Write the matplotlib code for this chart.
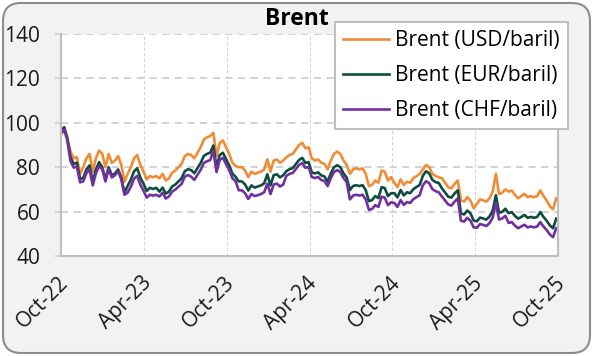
import numpy as np
import pandas as pd
import matplotlib
matplotlib.use("Agg")
import matplotlib.pyplot as plt
import matplotlib.dates as mdates
from matplotlib.patches import FancyBboxPatch
from matplotlib.transforms import IdentityTransform, ScaledTranslation

plt.rcParams['font.family'] = ['Open Sans', 'DejaVu Sans']

# semanas de Oct-22 a Set-25
datas = pd.date_range('2022-10-01', periods=157, freq='7D')

brent_usd = [96, 98, 93, 87, 84, 84.5, 77, 80, 84, 86, 78, 84, 87.5, 86, 80, 86, 82, 83, 85, 81,
             73.5, 77, 80, 84, 85.5, 81, 78, 74.5, 76, 75.5, 76, 75, 77, 74, 75, 77.5, 78.5, 80, 81.5, 85,
             86, 85.5, 84, 86.5, 89, 92.5, 93.5, 94, 95.5, 85, 91, 92, 89, 86, 82, 80.5, 80, 80, 78.5, 75.5,
             78, 77, 77.5, 78, 79, 83.5, 78, 83, 83.5, 82, 83, 84.5, 85.5, 86, 88, 90, 91, 88.5, 89, 84,
             83, 83.5, 82, 81.5, 79, 83, 86, 87, 86, 83, 81, 77, 79, 79.5, 79, 79.5, 77, 71.5, 72, 74,
             73, 78.5, 78, 74, 75.5, 73, 71, 74.5, 72, 73.5, 73, 75, 76, 77, 79, 81, 80, 77, 76, 75.5,
             75, 73, 71, 70.5, 72.5, 74, 65, 64.5, 66.5, 65, 61.5, 63.5, 65.5, 65, 64.5, 66, 69, 77, 68, 68.5,
             70, 69, 69.5, 67.5, 66, 67, 68, 66.5, 67, 66.5, 67, 69.5, 67, 65, 62.5, 61, 66]

brent_eur = [96, 98, 93, 84.4, 81.5, 82, 74.7, 75.2, 79, 80.8, 73.3, 79, 82.3, 80, 74.4, 80, 76.3, 77.2, 79, 75.3,
             68.4, 71.6, 74.4, 78.1, 79.5, 75.3, 72.5, 69.3, 70.7, 70.2, 70.7, 69, 70.8, 68.1, 69, 71.3, 72.2, 73.6, 75, 78.2,
             79.1, 78.7, 77.3, 79.6, 81.9, 85.1, 86, 86.5, 89.8, 79.9, 85.5, 86.5, 83.7, 80.8, 77.1, 75.7, 73.6, 73.6, 72.2, 69.5,
             71.8, 70.8, 71.3, 71.8, 72.7, 76.8, 71.8, 76.4, 76.8, 75.4, 76.4, 78.2, 79.1, 79.6, 81.4, 83.3, 84.2, 81.9, 82.3, 77.7,
             77.2, 77.7, 76.3, 75.8, 73.5, 77.2, 80, 80.9, 80, 77.2, 75.3, 69.7, 71.5, 71.9, 71.5, 71.9, 69.7, 64.7, 65.2, 67,
             66.1, 71, 70.6, 67, 68.3, 68.3, 66.4, 69.7, 67.3, 68.7, 68.3, 70.1, 71.1, 72, 76.2, 78.2, 77.2, 74.3, 73.3, 72.9,
             70.5, 68.6, 66.7, 66.3, 68.2, 69.6, 59.2, 58.7, 60.5, 59.2, 56, 55.6, 57.3, 56.9, 56.4, 57.8, 60.4, 67.4, 59.5, 59.9,
             61.3, 59.3, 59.8, 58.1, 56.8, 57.6, 58.5, 57.2, 57.6, 57.2, 57.6, 59.8, 57.6, 55.9, 53.8, 52.5, 56.8]

brent_chf = [95, 97, 92, 82.7, 79.8, 80.3, 73.2, 73.6, 77.3, 79.1, 71.8, 77.3, 80.5, 79.1, 73.6, 79.1, 75.4, 76.4, 78.2, 74.5,
             67.6, 68.5, 71.2, 74.8, 76.1, 72.1, 69.4, 66.3, 67.6, 67.2, 67.6, 66.8, 68.5, 65.9, 66.8, 69, 69.9, 71.2, 72.5, 75.7,
             76.5, 75.7, 74.3, 76.6, 78.8, 81.9, 82.7, 83.2, 87.4, 77.8, 83.3, 84.2, 81.4, 78.7, 75, 73.7, 69.6, 69.6, 68.3, 65.7,
             67.9, 67, 67.4, 67.9, 68.7, 72.6, 67.9, 72.2, 72.6, 71.3, 72.2, 76.1, 77, 77.4, 79.2, 81, 81.9, 79.7, 80.1, 75.6,
             75.1, 75.6, 74.2, 73.8, 71.5, 75.1, 77.8, 78.7, 77.8, 75.1, 73.3, 65.5, 67.2, 67.6, 67.2, 67.6, 65.5, 60.8, 61.2, 62.9,
             62.1, 66.7, 66.3, 62.9, 64.2, 63.9, 62.1, 65.2, 63, 64.3, 63.9, 65.6, 66.5, 67.4, 71.9, 73.7, 72.8, 70.1, 69.2, 68.7,
             66.8, 65, 63.2, 62.7, 64.5, 65.9, 55.9, 55.5, 57.2, 55.9, 52.9, 52.7, 54.4, 54, 53.5, 54.8, 57.3, 63.9, 56.4, 56.9,
             58.1, 54.9, 55.3, 53.7, 52.5, 53.3, 54.1, 52.9, 53.3, 52.9, 53.3, 55.3, 53.3, 51.7, 49.7, 48.5, 52.5]

series = {'Brent (USD/baril)': (brent_usd, '#ef8c35'),
          'Brent (EUR/baril)': (brent_eur, '#0d4d3e'),
          'Brent (CHF/baril)': (brent_chf, '#7030a0')}

fig = plt.figure(figsize=(5.93, 3.56), dpi=100, facecolor='white')
fundo = FancyBboxPatch((3, 3), 587, 350, boxstyle="round,pad=0,rounding_size=18",
                       transform=IdentityTransform(), facecolor='#f2f2f2',
                       edgecolor='#8c8c8c', linewidth=1.5, zorder=-5)
fig.patches.append(fundo)

ax = fig.add_axes([61/593, 1-256/356, (558-61)/593, (256-34)/356])
ax.set_facecolor('white')

for nome, (vals, cor) in series.items():
    ax.plot(datas, vals, color=cor, linewidth=1.9, label=nome)

ax.set_ylim(40, 140)
ax.set_yticks(np.arange(40, 141, 20))
ax.set_xlim(pd.Timestamp('2022-10-01'), pd.Timestamp('2025-10-01'))
ax.xaxis.set_major_locator(mdates.MonthLocator(bymonth=[4, 10]))
ax.xaxis.set_major_formatter(mdates.DateFormatter('%b-%y'))

ax.grid(axis='y', color='#cfcfcf', linestyle=(0, (4, 3)), linewidth=1.3)
ax.grid(axis='x', color='#d5d5d5', linestyle=(0, (3, 2)), linewidth=0.8)

for lado in ['left', 'bottom', 'right']:
    ax.spines[lado].set_color('#bfbfbf')
    ax.spines[lado].set_linewidth(1.5)
ax.spines['top'].set_visible(False)

ax.tick_params(axis='y', length=4, width=1.3, color='#cfcfcf', labelsize=15, pad=11, labelcolor='#1a1a1a')
ax.tick_params(axis='x', length=0, labelsize=15, pad=12, labelcolor='#1a1a1a')
offset = ScaledTranslation(12/100, 0, fig.dpi_scale_trans)
for lbl in ax.get_xticklabels():
    lbl.set_rotation(45)
    lbl.set_ha('right')
    lbl.set_transform(lbl.get_transform() + offset)

fig.text(0.5, 1-19/356, 'Brent', ha='center', va='center', fontsize=16.5, fontweight='bold', color='black')

leg = ax.legend(loc='upper right', bbox_to_anchor=(568/593, 1-22/356), bbox_transform=fig.transFigure,
                fontsize=15, frameon=True, fancybox=False, framealpha=1, edgecolor='#bfbfbf',
                handlelength=2.2, handletextpad=0.3, labelspacing=0.68, borderpad=0.38, borderaxespad=0)
leg.get_frame().set_linewidth(1.5)

fig.savefig('out.png', dpi=100, facecolor='white')
